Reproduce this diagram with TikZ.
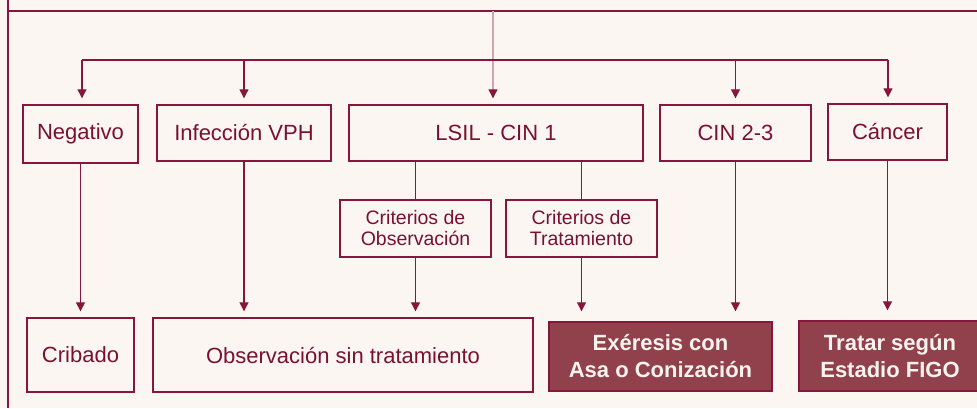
\documentclass[tikz,border=0pt]{standalone}
\usepackage{fontspec}
\setmainfont{Liberation Sans}
\usetikzlibrary{arrows.meta}
\definecolor{granate}{RGB}{135,22,60}
\definecolor{txtgranate}{RGB}{122,16,52}
\definecolor{rosa}{RGB}{212,163,176}
\definecolor{relleno}{RGB}{145,65,75}
\definecolor{fondo}{RGB}{251,246,241}
\definecolor{crema}{RGB}{251,243,238}
\begin{document}
\begin{tikzpicture}[x=1pt,y=-1pt,
  caja/.style={draw=granate,line width=1.4pt,text=txtgranate,inner sep=0pt,
    align=center,font=\fontsize{22}{26}\selectfont},
  crit/.style={caja,line width=1.2pt,font=\fontsize{19.5}{21}\selectfont},
  final/.style={caja,fill=relleno,text=crema,font=\fontsize{22}{27}\selectfont\bfseries},
  linea/.style={granate,line width=1.2pt},
  flecha/.style={linea,-{Triangle[width=9pt,length=9pt,color=granate]},shorten >=6pt},
  flechaf/.style={flecha,shorten >=10pt}]
\useasboundingbox[fill=fondo] (0,0) rectangle (977,408);
\clip (0,0) rectangle (977,408);
% marco
\draw[granate,line width=2.5pt] (8,0) -- (8,408);
\draw[granate,line width=1.8pt] (8,11) -- (977,11);
% fila de resultados
\draw (80.5,134) node (neg)  [caja,minimum width=115,minimum height=58] {Negativo};
\draw (244,133)  node (vph)  [caja,minimum width=174,minimum height=56] {Infección VPH};
\draw (496,133)  node (lsil) [caja,minimum width=294,minimum height=56] {LSIL - CIN 1};
\draw (735.5,133) node (cin) [caja,minimum width=151,minimum height=56] {CIN 2-3};
\draw (887.5,132) node (canc) [caja,minimum width=119,minimum height=56] {Cáncer};
% criterios
\draw (415.5,228.5) node (cobs)  [crit,minimum width=151,minimum height=57] {Criterios de\\Observación};
\draw (581.5,228.5) node (ctrat) [crit,minimum width=151,minimum height=57] {Criterios de\\Tratamiento};
% conducta
\draw (80.5,355) node (crib) [caja,minimum width=107,minimum height=74] {Cribado};
\draw (343,355)  node (obs)  [caja,minimum width=380,minimum height=74] {Observación sin tratamiento};
\draw (660.5,356.5) node (exe) [final,minimum width=223,minimum height=69] {Exéresis con\\Asa o Conización};
\draw (890,356) node (trat) [final,minimum width=182,minimum height=70] {Tratar según\\Estadio FIGO};
% conectores
\coordinate (top)  at (493,11);
\coordinate (busL) at (82,60);
\coordinate (busR) at (888,60);
\draw[flecha,rosa] (top) -- (top |- lsil.north);
\draw[linea] (busL) -- (busR);
\draw[flecha] (busL) -- (busL |- neg.north);
\draw[flecha] (vph |- busL) -- (vph);
\draw[flecha] (cin |- busL) -- (cin);
\draw[flecha] (busR) -- (busR |- canc.north);
\draw[linea] (lsil.south -| cobs) -- (cobs);
\draw[linea] (lsil.south -| ctrat) -- (ctrat);
\draw[flecha] (neg) -- (crib);
\draw[flecha] (vph) -- (vph |- obs.north);
\draw[flecha] (cobs) -- (cobs |- obs.north);
\draw[flechaf] (ctrat) -- (ctrat |- exe.north);
\draw[flechaf] (cin) -- (cin |- exe.north);
\draw[flechaf] (canc) -- (canc |- trat.north);
\end{tikzpicture}
\end{document}
